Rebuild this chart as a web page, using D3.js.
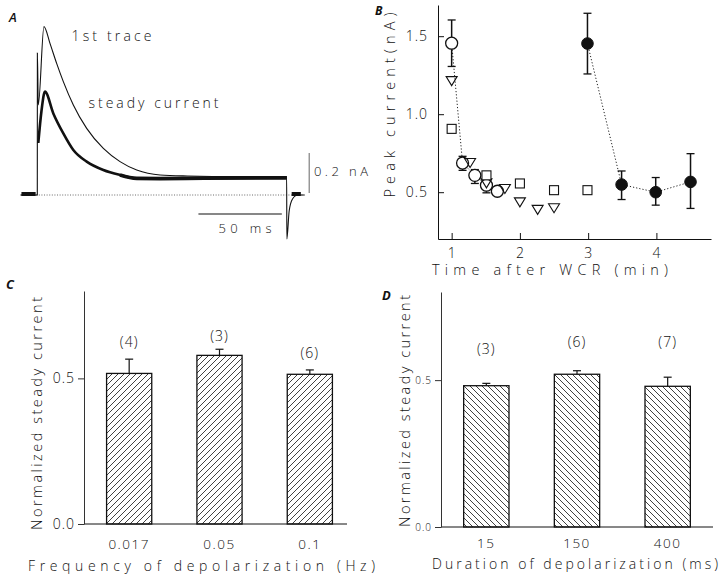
<!DOCTYPE html>
<html><head><meta charset="utf-8">
<script src="https://cdn.jsdelivr.net/npm/d3@7"></script>
<style>
html,body{margin:0;padding:0;background:#fff;}
svg text{font-family:"Open Sans","DejaVu Sans","Liberation Sans",sans-serif;font-weight:300;fill:#111;}
</style></head>
<body>
<svg id="fig" width="720" height="580"></svg>
<script>
// ---------- Panel A data (time in ms, current in nA) ----------
const firstTraceT = [-10, 0, 0.05, 0.6, 4.0, 7.6, 11.6, 15.6, 21.6, 29.6, 39.6, 49.6, 59.6, 73.6, 90, 120, 149.5, 149.6, 151, 153, 156, 160];
const firstTraceI = [0, 0, 0.71, 0.45, 0.842, 0.758, 0.658, 0.567, 0.45, 0.333, 0.233, 0.167, 0.125, 0.1, 0.095, 0.092, 0.092, -0.22, -0.08, -0.02, 0.0, 0.0];
const steadyTraceT = [0.6, 2.5, 4.6, 9.6, 15.6, 21.6, 29.6, 39.6, 49.6, 59.6, 73.6, 100, 149.5];
const steadyTraceI = [0.26, 0.42, 0.517, 0.408, 0.308, 0.225, 0.167, 0.125, 0.1, 0.083, 0.082, 0.084, 0.086];
const preBlobT = [-9.5, -1];
const postBlobT = [152.5, 158];
const scaleBarCurrent = 0.2; // nA
const scaleBarTime = 50;     // ms

// ---------- Panel B data ----------
const openCircleX  = [1.0, 1.16, 1.34, 1.51, 1.67];
const openCircleY  = [1.455, 0.687, 0.608, 0.545, 0.506];
const openCircleHi = [1.604, 0.73, 0.645, 0.581, null];
const openCircleLo = [1.306, 0.64, 0.556, 0.496, null];
const triangleX = [1.0, 1.27, 1.51, 1.78, 2.0, 2.26, 2.5];
const triangleY = [1.215, 0.69, 0.56, 0.524, 0.438, 0.39, 0.40];
const squareX = [1.0, 1.51, 2.0, 2.5, 2.99];
const squareY = [0.906, 0.608, 0.556, 0.513, 0.513];
const filledX  = [2.99, 3.49, 3.99, 4.5];
const filledY  = [1.453, 0.549, 0.50, 0.566];
const filledHi = [1.647, 0.636, 0.594, 0.747];
const filledLo = [1.258, 0.453, 0.417, 0.396];
const bXTicks = [1, 2, 3, 4];
const bYTicks = [0.5, 1.0, 1.5];

// ---------- Panel C data ----------
const freqCats = ["0.017", "0.05", "0.1"];
const freqVals = [0.517, 0.579, 0.514];
const freqErr  = [0.049, 0.021, 0.015];
const freqN    = ["(4)", "(3)", "(6)"];

// ---------- Panel D data ----------
const durCats = ["15", "150", "400"];
const durVals = [0.481, 0.520, 0.479];
const durErr  = [0.008, 0.012, 0.031];
const durN    = ["(3)", "(6)", "(7)"];
const cdYTicks = [0.0, 0.5];

const svg = d3.select("#fig");
svg.append("rect").attr("width",720).attr("height",580).attr("fill","#fff");
const INK = "#111";

function label(g, x, y, s, size, opt={}) {
  const t = g.append("text").attr("x",x).attr("y",y).text(s)
    .attr("font-size",size);
  if (opt.len) t.attr("textLength",opt.len).attr("lengthAdjust","spacing");
  if (opt.anchor) t.attr("text-anchor",opt.anchor);
  if (opt.rotate) t.attr("transform",`rotate(-90,${x},${y})`);
  if (opt.style) t.attr("font-style",opt.style);
  if (opt.weight) t.style("font-weight",opt.weight);
  if (opt.ls) t.attr("letter-spacing",opt.ls);
  return t;
}

// defs: hatch patterns
const defs = svg.append("defs");
defs.append("pattern").attr("id","hatchC").attr("patternUnits","userSpaceOnUse")
  .attr("width",6).attr("height",6)
  .append("path").attr("d","M0,6 L6,0 M-1,1 L1,-1 M5,7 L7,5")
  .attr("stroke",INK).attr("stroke-width",0.8);
defs.append("pattern").attr("id","hatchD").attr("patternUnits","userSpaceOnUse")
  .attr("width",6).attr("height",6)
  .append("path").attr("d","M0,0 L6,6 M-1,5 L1,7 M5,-1 L7,1")
  .attr("stroke",INK).attr("stroke-width",0.8);

// ================= Panel A =================
(function(){
  const g = svg.append("g");
  const x = d3.scaleLinear().domain([0, 50]).range([37.3, 37.3 + 83.4]);
  const y = d3.scaleLinear().domain([0, 0.2]).range([195, 155]);
  // baseline
  g.append("line").attr("x1",x(-10)).attr("x2",x(161)).attr("y1",y(0)).attr("y2",y(0))
    .attr("stroke","#444").attr("stroke-width",0.8).attr("stroke-dasharray","1,1.6");
  const line = d3.line().x(d=>x(d[0])).y(d=>y(d[1])).curve(d3.curveMonotoneX);
  const steady = steadyTraceT.map((t,i)=>[t, steadyTraceI[i]]);
  const first = firstTraceT.map((t,i)=>[t, firstTraceI[i]]);
  g.append("path").attr("d",line(steady)).attr("fill","none").attr("stroke",INK).attr("stroke-width",2.6)
    .attr("stroke-linejoin","round");
  // wider noisy band in the late part of the steady trace
  g.append("path").attr("d",line(steady.filter(d=>d[0]>=49.6))).attr("fill","none").attr("stroke",INK)
    .attr("stroke-width",3.8).attr("stroke-linejoin","round");
  g.append("path").attr("d",line(first)).attr("fill","none").attr("stroke",INK).attr("stroke-width",1.1);
  // noisy holding blobs
  [preBlobT, postBlobT].forEach(b=>g.append("line").attr("x1",x(b[0])).attr("x2",x(b[1]))
     .attr("y1",y(0.005)).attr("y2",y(0.005)).attr("stroke",INK).attr("stroke-width",4));
  // scale bars
  const sbT = 163;
  g.append("line").attr("x1",x(sbT)).attr("x2",x(sbT)).attr("y1",y(0.01)).attr("y2",y(0.01+scaleBarCurrent))
    .attr("stroke","#666").attr("stroke-width",1);
  const tb0 = 96.6, ib = -0.095;
  g.append("line").attr("x1",x(tb0)).attr("x2",x(tb0+scaleBarTime)).attr("y1",y(ib)).attr("y2",y(ib))
    .attr("stroke",INK).attr("stroke-width",1.2);
  label(g, 314, 176, "0.2 nA", 13, {len:54});
  label(g, 218.5, 233, "50 ms", 13, {len:53});
  label(g, 71.5, 41, "1st trace", 14, {len:80});
  label(g, 88.5, 108, "steady current", 14, {len:130});
  label(g, 9, 22, "A", 13, {style:"italic", weight:600});
})();

// ================= Panel B =================
(function(){
  const g = svg.append("g");
  const x = d3.scaleLinear().domain([0.8, 4.8]).range([438, 711]);
  const y = d3.scaleLinear().domain([0.2, 1.7]).range([239, 5]);
  const ax = g.append("g").attr("transform","translate(0,239)")
    .call(d3.axisBottom(x).tickValues(bXTicks).tickSizeInner(-6).tickSizeOuter(0).tickPadding(9).tickFormat(d3.format("d")));
  const ay = g.append("g").attr("transform","translate(438,0)")
    .call(d3.axisLeft(y).tickValues(bYTicks).tickSizeInner(-6).tickSizeOuter(0).tickPadding(10).tickFormat(d3.format(".1f")));
  [ax, ay].forEach(a=>{
    a.selectAll("path,line").attr("stroke",INK).attr("stroke-width",1);
    a.selectAll("text").attr("font-size",14).attr("fill","#111").attr("font-family",null).attr("letter-spacing",1);
  });
  // dotted connecting lines
  const ln = d3.line().x(d=>x(d[0])).y(d=>y(d[1]));
  g.append("path").attr("d",ln(openCircleX.map((v,i)=>[v,openCircleY[i]])))
    .attr("fill","none").attr("stroke","#222").attr("stroke-width",1).attr("stroke-dasharray","1.2,2");
  g.append("path").attr("d",ln(filledX.map((v,i)=>[v,filledY[i]])))
    .attr("fill","none").attr("stroke","#222").attr("stroke-width",1).attr("stroke-dasharray","1.2,2");
  // error bars
  function ebar(xs, hi, lo){
    xs.forEach((v,i)=>{
      if (hi[i]==null) return;
      const cx = x(v);
      g.append("line").attr("x1",cx).attr("x2",cx).attr("y1",y(hi[i])).attr("y2",y(lo[i])).attr("stroke",INK).attr("stroke-width",1.5);
      [hi[i], lo[i]].forEach(e=>g.append("line").attr("x1",cx-4).attr("x2",cx+4).attr("y1",y(e)).attr("y2",y(e)).attr("stroke",INK).attr("stroke-width",1.3));
    });
  }
  ebar(openCircleX, openCircleHi, openCircleLo);
  ebar(filledX, filledHi, filledLo);
  // open circles
  openCircleX.forEach((v,i)=>g.append("circle").attr("cx",x(v)).attr("cy",y(openCircleY[i])).attr("r",6)
    .attr("fill","#fff").attr("stroke",INK).attr("stroke-width",1.3));
  // filled circles
  filledX.forEach((v,i)=>g.append("circle").attr("cx",x(v)).attr("cy",y(filledY[i])).attr("r",5.8)
    .attr("fill",INK).attr("stroke",INK));
  // triangles (down)
  triangleX.forEach((v,i)=>{
    const cx=x(v), cy=y(triangleY[i]);
    g.append("path").attr("d",`M${cx-5.5},${cy-4} L${cx+5.5},${cy-4} L${cx},${cy+5} Z`)
      .attr("fill","none").attr("stroke",INK).attr("stroke-width",1.1);
  });
  // squares
  squareX.forEach((v,i)=>g.append("rect").attr("x",x(v)-4.5).attr("y",y(squareY[i])-4.5).attr("width",9).attr("height",9)
    .attr("fill","#fff").attr("stroke",INK).attr("stroke-width",1.1));
  label(g, 395, 105, "Peak current(nA)", 14.5, {rotate:true, anchor:"middle", len:185});
  label(g, 550, 275, "Time after WCR (min)", 14.5, {anchor:"middle", len:236});
  label(g, 375, 15, "B", 12, {style:"italic", weight:700});
})();

// ================= Bar panels =================
function barPanel(opt){
  const g = svg.append("g");
  const x = d3.scaleBand().domain(opt.cats).range(opt.xr).paddingInner(0.5).paddingOuter(0.25);
  const y = d3.scaleLinear().domain([0, 0.8]).range(opt.yr);
  // axes
  g.append("line").attr("x1",opt.xr[0]).attr("x2",opt.xEnd).attr("y1",y(0)).attr("y2",y(0)).attr("stroke",INK).attr("stroke-width",1);
  const ay = g.append("g").attr("transform",`translate(${opt.xr[0]},0)`)
    .call(d3.axisLeft(y).tickValues(cdYTicks).tickSizeInner(6).tickSizeOuter(0).tickPadding(3).tickFormat(d3.format(".1f")));
  ay.select(".domain").attr("stroke","#333").attr("stroke-width",1);
  ay.selectAll("line").attr("stroke","#333");
  ay.selectAll("text").attr("font-size",opt.tickFont).attr("fill","#111").attr("font-family",null).attr("letter-spacing",1);
  // bars
  opt.vals.forEach((v,i)=>{
    const c = opt.cats[i];
    g.append("rect").attr("x",x(c)).attr("y",y(v)).attr("width",x.bandwidth()).attr("height",y(0)-y(v))
      .attr("fill",`url(#${opt.pattern})`).attr("stroke",INK).attr("stroke-width",1.3);
    const cx = x(c)+x.bandwidth()/2;
    g.append("line").attr("x1",cx).attr("x2",cx).attr("y1",y(v)).attr("y2",y(v+opt.err[i])).attr("stroke",INK).attr("stroke-width",1.2);
    g.append("line").attr("x1",cx-4).attr("x2",cx+4).attr("y1",y(v+opt.err[i])).attr("y2",y(v+opt.err[i])).attr("stroke",INK).attr("stroke-width",1.2);
    label(g, cx, opt.nY[i], opt.n[i], 14, {anchor:"middle", ls:1});
    label(g, cx, opt.catY, c, 13.5, {anchor:"middle", ls:1.5});
  });
  label(g, opt.ylab[0], opt.ylab[1], "Normalized steady current", 14.5, {rotate:true, anchor:"middle", len:opt.ylab[2]});
  label(g, opt.xlab[0], opt.xlab[1], opt.xlabText, 14, {anchor:"middle", len:opt.xlab[2]});
  label(g, opt.letter[0], opt.letter[1], opt.letter[2], 13, {style:"italic", weight:700});
}

barPanel({cats:freqCats, vals:freqVals, err:freqErr, n:freqN, xr:[84,355], xEnd:347, yr:[524,291],
  pattern:"hatchC", tickFont:14, nY:[347,341,358], catY:549,
  ylab:[42,413.5,233], xlab:[201.5,571,347], xlabText:"Frequency of depolarization (Hz)", letter:[6,289,"C"]});
barPanel({cats:durCats, vals:durVals, err:durErr, n:durN, xr:[441,713], xEnd:713, yr:[527,292],
  pattern:"hatchD", tickFont:10, nY:[354,347,347], catY:548,
  ylab:[410,411,232], xlab:[575,569,286], xlabText:"Duration of depolarization (ms)", letter:[382,300,"D"]});
</script>
</body></html>
